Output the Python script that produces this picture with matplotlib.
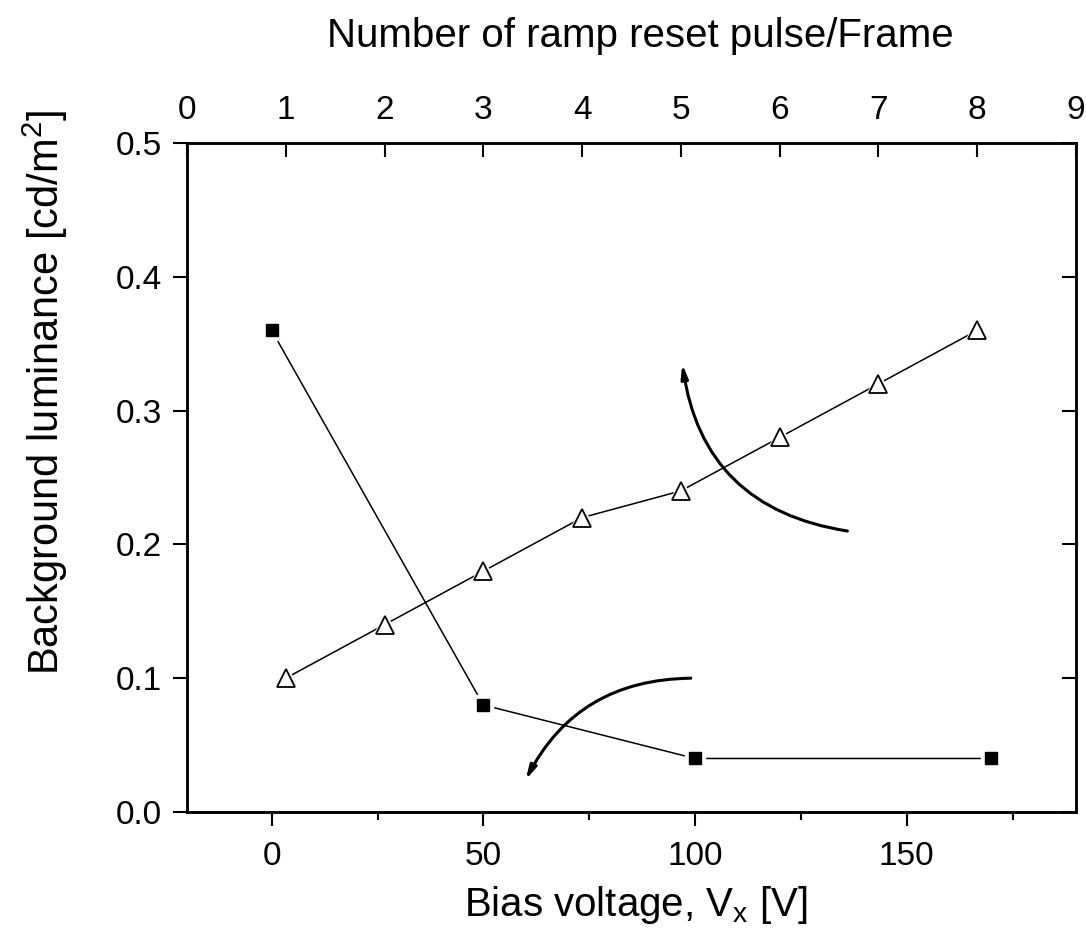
import matplotlib
matplotlib.use('Agg')
import matplotlib.pyplot as plt

# squares: bias voltage (bottom axis)
bias_voltage = [0, 50, 100, 170]
lum_bias = [0.36, 0.08, 0.04, 0.04]

# triangles: number of ramp reset pulses (top axis)
pulses = [1, 2, 3, 4, 5, 6, 7, 8]
lum_pulses = [0.10, 0.14, 0.18, 0.22, 0.24, 0.28, 0.32, 0.36]

bias_ticks = [0, 50, 100, 150]
bias_minor = [-25, 25, 75, 125, 175]
pulse_ticks = [0, 1, 2, 3, 4, 5, 6, 7, 8, 9]
lum_ticks = [0.0, 0.1, 0.2, 0.3, 0.4, 0.5]

plt.rcParams['font.family'] = ['Liberation Sans', 'DejaVu Sans']
plt.rcParams['mathtext.fontset'] = 'custom'
plt.rcParams['mathtext.rm'] = 'Liberation Sans'

W, H = 1086, 949
fig = plt.figure(figsize=(W / 100, H / 100), dpi=100)
ax = fig.add_axes([187 / W, 1 - 812 / H, (1076 - 187) / W, (812 - 143) / H])

ax.set_xlim(-20, 190)
ax.set_ylim(0, 0.5)
ax.set_xticks(bias_ticks)
ax.set_xticks([m for m in bias_minor if -20 < m < 190], minor=True)
ax.set_yticks(lum_ticks)
ax.set_yticklabels([f'{v:.1f}' for v in lum_ticks])
ax.tick_params(axis='both', which='major', direction='out', length=10, width=1.5,
               labelsize=24, pad=8)
ax.tick_params(axis='x', which='minor', direction='out', length=6, width=1.5)
ax.tick_params(axis='x', pad=11)

ax_top = ax.twiny()
ax_top.set_xlim(0, 9)
ax_top.set_xticks(pulse_ticks)
ax_top.tick_params(axis='x', which='major', direction='in', length=10, width=1.5,
                   labelsize=24, pad=12)
# right-hand ticks point inward
ax_top.yaxis.set_visible(True)
ax_top.yaxis.tick_right()
ax_top.tick_params(axis='y', direction='in', length=10, width=1.5, labelright=False)

for a in (ax, ax_top):
    for s in a.spines.values():
        s.set_linewidth(1.8)

# squares, with a small white gap between line and marker
ax.plot(bias_voltage, lum_bias, color='black', lw=1.1, zorder=2)
ax.plot(bias_voltage, lum_bias, ls='none', marker='s', ms=14, mfc='white', mec='white', zorder=3)
ax.plot(bias_voltage, lum_bias, ls='none', marker='s', ms=9, mfc='black', mec='black', zorder=4)

ax_top.plot(pulses, lum_pulses, color='black', lw=1.1, zorder=2)
ax_top.plot(pulses, lum_pulses, ls='none', marker='^', ms=19, mfc='white', mec='white', zorder=3)
ax_top.plot(pulses, lum_pulses, ls='none', marker='^', ms=13, mfc='white', mec='black', mew=1.3, zorder=4)

arrow = dict(arrowstyle='-|>,head_length=0.8,head_width=0.2', color='black', lw=2.2,
             shrinkA=0, shrinkB=0)
ax.annotate('', xy=(97, 0.335), xytext=(136, 0.21),
            arrowprops=dict(arrow, connectionstyle='arc3,rad=-0.37'))
ax.annotate('', xy=(60, 0.024), xytext=(99, 0.10),
            arrowprops=dict(arrow, connectionstyle='arc3,rad=0.3'))

fig.text(640 / W, 1 - 36 / H, 'Number of ramp reset pulse/Frame', fontsize=29,
         ha='center', va='center')
fig.text(636 / W, 1 - 905 / H, r'Bias voltage, V$_{\mathregular{x}}$ [V]', fontsize=29,
         ha='center', va='center')
fig.text(45 / W, 1 - 392 / H, r'Background luminance [cd/m$^{\mathregular{2}}$]', fontsize=30,
         ha='center', va='center', rotation=90)

fig.savefig('out.png', dpi=100)
